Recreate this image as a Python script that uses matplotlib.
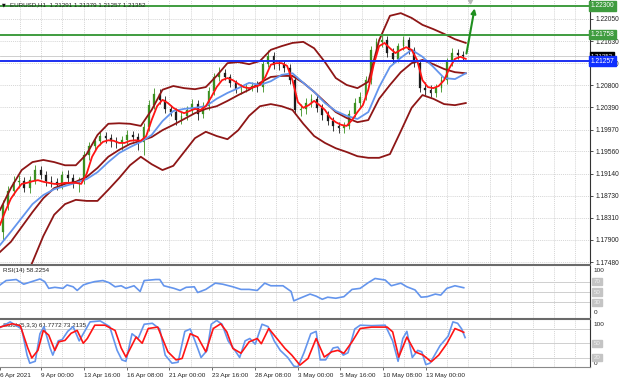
import numpy as np
import matplotlib
matplotlib.use("Agg")
import matplotlib.pyplot as plt
from matplotlib.lines import Line2D

plt.rcParams['font.family'] = ['Liberation Sans', 'DejaVu Sans']

# ---------------- data ----------------
title_text = "EURUSD,H1  1.21291 1.21379 1.21257 1.21352"

opens = [1.1805,1.1855,1.1882,1.1899,1.1900,1.1887,1.1902,1.1921,1.1912,1.1900,
         1.1899,1.1893,1.1912,1.1906,1.1897,1.1902,1.1949,1.1966,1.1976,1.1985,
         1.1981,1.1976,1.1972,1.1977,1.1987,1.1983,1.1974,1.2002,1.2043,1.2064,
         1.2053,1.2036,1.2030,1.2015,1.2023,1.2034,1.2045,1.2026,1.2041,1.2070,
         1.2096,1.2103,1.2096,1.2085,1.2073,1.2074,1.2077,1.2079,1.2078,1.2120,
         1.2135,1.2119,1.2118,1.2113,1.2090,1.2034,1.2035,1.2047,1.2055,1.2038,
         1.2025,1.2013,1.2004,1.2000,1.2004,1.2026,1.2047,1.2058,1.2090,1.2147,
         1.2162,1.2165,1.2141,1.2130,1.2154,1.2165,1.2147,1.2122,1.2075,1.2072,
         1.2066,1.2075,1.2090,1.2124,1.2141,1.2137]
highs = [1.1865,1.1891,1.1910,1.1912,1.1908,1.1910,1.1930,1.1929,1.1919,1.1910,
         1.1906,1.1919,1.1921,1.1914,1.1908,1.1957,1.1974,1.1983,1.1994,1.1993,
         1.1989,1.1983,1.1985,1.1996,1.1994,1.1991,1.2009,1.2053,1.2075,1.2073,
         1.2060,1.2043,1.2038,1.2030,1.2041,1.2055,1.2053,1.2049,1.2077,1.2103,
         1.2115,1.2111,1.2102,1.2090,1.2083,1.2085,1.2087,1.2088,1.2128,1.2147,
         1.2143,1.2128,1.2126,1.2120,1.2096,1.2045,1.2056,1.2064,1.2062,1.2045,
         1.2032,1.2021,1.2011,1.2011,1.2034,1.2056,1.2068,1.2098,1.2154,1.2169,
         1.2175,1.2173,1.2150,1.2160,1.2173,1.2171,1.2152,1.2128,1.2087,1.2081,
         1.2083,1.2098,1.2132,1.2150,1.2149,1.2145]
lows = [1.1790,1.1846,1.1874,1.1887,1.1880,1.1878,1.1895,1.1904,1.1891,1.1889,
        1.1884,1.1885,1.1899,1.1887,1.1880,1.1895,1.1940,1.1959,1.1968,1.1972,
        1.1964,1.1962,1.1959,1.1970,1.1976,1.1959,1.1949,1.1994,1.2036,1.2045,
        1.2028,1.2023,1.2006,1.2008,1.2015,1.2026,1.2015,1.2019,1.2034,1.2062,
        1.2088,1.2090,1.2077,1.2066,1.2064,1.2068,1.2070,1.2068,1.2068,1.2115,
        1.2111,1.2109,1.2105,1.2083,1.2026,1.2023,1.2026,1.2040,1.2030,1.2015,
        1.2006,1.1994,1.1991,1.1991,1.1998,1.2021,1.2040,1.2053,1.2083,1.2139,
        1.2152,1.2134,1.2122,1.2124,1.2147,1.2139,1.2115,1.2068,1.2062,1.2058,
        1.2058,1.2068,1.2083,1.2117,1.2130,1.2128]
closes = [1.1855,1.1882,1.1899,1.1900,1.1887,1.1902,1.1921,1.1912,1.1900,1.1899,
          1.1893,1.1912,1.1906,1.1897,1.1902,1.1949,1.1966,1.1976,1.1985,1.1981,
          1.1976,1.1972,1.1977,1.1987,1.1983,1.1974,1.2002,1.2043,1.2064,1.2053,
          1.2036,1.2030,1.2015,1.2023,1.2034,1.2045,1.2026,1.2041,1.2070,1.2096,
          1.2103,1.2096,1.2085,1.2073,1.2074,1.2077,1.2079,1.2078,1.2120,1.2135,
          1.2119,1.2118,1.2113,1.2090,1.2034,1.2035,1.2047,1.2055,1.2038,1.2025,
          1.2013,1.2004,1.2000,1.2004,1.2026,1.2047,1.2058,1.2090,1.2147,1.2162,
          1.2165,1.2141,1.2130,1.2154,1.2165,1.2147,1.2122,1.2075,1.2072,1.2066,
          1.2075,1.2090,1.2124,1.2141,1.2137,1.21352]

fast_ma = [1.1818,1.1844,1.1867,1.1882,1.1895,1.1897,1.1900,1.1902,1.1899,1.1897,
           1.1895,1.1895,1.1897,1.1897,1.1897,1.1895,1.1914,1.1946,1.1964,1.1974,
           1.1977,1.1976,1.1972,1.1972,1.1976,1.1977,1.1976,1.1985,1.2015,1.2041,
           1.2053,1.2047,1.2038,1.2032,1.2028,1.2032,1.2036,1.2034,1.2041,1.2058,
           1.2077,1.2090,1.2094,1.2090,1.2083,1.2077,1.2075,1.2077,1.2081,1.2096,
           1.2119,1.2122,1.2122,1.2117,1.2090,1.2049,1.2038,1.2043,1.2051,1.2043,
           1.2034,1.2019,1.2011,1.2006,1.2004,1.2015,1.2030,1.2043,1.2072,1.2119,
           1.2154,1.2160,1.2150,1.2141,1.2147,1.2152,1.2147,1.2128,1.2090,1.2077,
           1.2075,1.2079,1.2090,1.2113,1.2130,1.2134,1.2130]
slow_ma = [1.1780,1.1805,1.1831,1.1857,1.1874,1.1885,1.1891,1.1897,1.1904,1.1917,
           1.1936,1.1953,1.1964,1.1974,1.1987,1.2013,1.2032,1.2036,1.2038,1.2041,
           1.2055,1.2066,1.2075,1.2085,1.2081,1.2088,1.2100,1.2103,1.2085,1.2068,
           1.2047,1.2032,1.2023,1.2017,1.2030,1.2077,1.2115,1.2132,1.2147,1.2134,
           1.2115,1.2094,1.2092,1.2103]
bb_upper = [1.1846,1.1887,1.1921,1.1936,1.1940,1.1936,1.1930,1.1930,1.1951,1.1987,
            1.2008,1.2009,1.2008,1.2004,1.2034,1.2072,1.2079,1.2075,1.2073,1.2077,
            1.2098,1.2122,1.2124,1.2120,1.2126,1.2147,1.2154,1.2160,1.2162,1.2150,
            1.2124,1.2094,1.2081,1.2075,1.2087,1.2165,1.2211,1.2216,1.2207,1.2194,
            1.2186,1.2177,1.2167,1.2160]
bb_middle = [1.1767,1.1786,1.1814,1.1842,1.1868,1.1887,1.1895,1.1899,1.1908,1.1925,
             1.1946,1.1959,1.1970,1.1976,1.1983,1.1996,1.2006,1.2017,1.2028,1.2036,
             1.2041,1.2051,1.2062,1.2072,1.2085,1.2096,1.2098,1.2098,1.2085,1.2068,
             1.2049,1.2030,1.2019,1.2011,1.2015,1.2055,1.2081,1.2105,1.2122,1.2128,
             1.2120,1.2111,1.2105,1.2103]
bb_lower = [1.1686,1.1684,1.1705,1.1748,1.1797,1.1837,1.1857,1.1865,1.1863,1.1863,
            1.1884,1.1906,1.1930,1.1946,1.1932,1.1921,1.1929,1.1955,1.1981,1.1993,
            1.1985,1.1979,1.1996,1.2023,1.2041,1.2045,1.2041,1.2034,1.2008,1.1985,
            1.1972,1.1962,1.1955,1.1947,1.1944,1.1944,1.1951,1.1994,1.2038,1.2062,
            1.2055,1.2045,1.2043,1.2047]

rsi_hours = [0,9,24,35,47,59,66,72,81,93, 99,108,114,123,131,140,152,161,170,179,
             186,198,207,213,230,236,242,257,266,275, 287,292,304,318,329,344,356,368,380,391,
             400,418,430,434,443,458,467,476,484,496, 508,520,532,544,554,569,578,592,601,613,
             622,631,643,651,660,672,685]
rsi_values = [63.5,72,74,65,70,75,70,57,59,57, 63.5,60,53,63.5,67,70,72,68,60,62,
              57,62,51,72,74,74,62,57,53,59, 60,49,55,67,65,60,55,55,53,67,
              62,62,51,33,38,46,42,36,40,38, 41,55,57,68,76,73,62,67,60,54,
              40,41,46,44,57,62,58.2]

stoch_main_hours = [0,15,32,40,44,52,59,65,74,78, 86,92,100,108,117,123,133,148,162,173,
                    180,186,195,204,213,225,236,244,254,263, 273,281,288,297,306,312,320,328,337,347,
                    354,362,369,377,387,396,405,414,425,434, 440,449,459,467,473,481,492,499,507,514,
                    524,532,549,569,580,588,595,601,609,617, 623,629,635,642,650,662,669,676,682,687]
stoch_main = [83,95,80,25,8,12,70,85,40,25, 55,58,75,85,55,70,95,97,85,35,
              15,12,70,60,90,92,80,25,8,10, 75,80,55,20,35,90,98,90,55,35,
              20,55,60,48,90,85,55,35,20,2, 0,30,70,75,15,15,40,42,25,30,
              80,88,87,88,55,12,60,75,20,35, 32,5,8,25,45,65,95,92,80,62]
stoch_signal_hours = [0,18,30,41,47,56,64,72,81,87, 96,105,114,123,129,140,155,170,179,186,
                      201,210,219,233,248,260,269,281,292,304, 315,326,335,344,356,368,380,386,397,409,
                      421,431,443,455,467,479,490,499,508,520, 532,549,572,580,589,601,613,625,637,648,
                      660,672,679,685]
stoch_signal = [84,91,87,40,19,35,77,67,35,53, 56,71,77,50,60,88,88,77,40,21,
                63,50,81,84,32,15,18,70,63,32, 81,91,74,39,29,53,60,49,81,60,
                39,25,4,18,60,21,32,35,29,53, 81,84,84,74,21,63,32,25,11,25,
                49,81,77,73]

price_ticks = [1.17480, 1.17900, 1.18310, 1.18730, 1.19140, 1.19560,
               1.19970, 1.20390, 1.20800, 1.21220, 1.21630, 1.22050]
resistance_levels = [1.22300, 1.21758]
support_level = 1.21257
last_price = 1.21352
arrow_from = (689, 1.2140)
arrow_to = (701, 1.2225)
date_labels = ["6 Apr 2021", "9 Apr 00:00", "13 Apr 16:00", "16 Apr 08:00", "21 Apr 00:00",
               "23 Apr 16:00", "28 Apr 08:00", "3 May 00:00", "5 May 16:00",
               "10 May 08:00", "13 May 00:00"]

# ---------------- layout ----------------
W, H = 620, 383
PX_PER_HOUR = 0.677
XMAX = 590 / PX_PER_HOUR
Y_TOP, Y_BOT = 1.22407, 1.17444

def rect(x0, y0, x1, y1):
    return [x0 / W, 1 - y1 / H, (x1 - x0) / W, (y1 - y0) / H]

GREEN = '#3f9c3f'
BLUE_LINE = '#1c2ff0'
BAND = '#8e1616'
RED = '#ff1414'
CORN = '#6495ed'
GRID = '#c6c6c6'
LEVEL = '#cfcfcf'

candle_x = 4 + 8 * np.arange(len(closes))
fast_x = 8 * np.arange(len(fast_ma))
slow_x = 16 * np.arange(len(slow_ma))
grid_hours = 29.0 + 31.57 * np.arange(27)
tick_hours = [0.0] + list(60.6 + 63.15 * np.arange(10))

fig = plt.figure(figsize=(W / 100, H / 100), dpi=100)
fig.patch.set_facecolor('white')

def style_panel(a):
    a.set_xlim(0, XMAX)
    for s in ['left', 'top', 'bottom']:
        a.spines[s].set_visible(False)
    a.spines['right'].set_color('#333333')
    a.spines['right'].set_linewidth(0.8)
    a.set_xticks([])
    for g in grid_hours:
        a.axvline(g, color=GRID, lw=0.5, ls=(0, (1.5, 1.5)), zorder=0)

# ---- main price panel ----
ax = fig.add_axes(rect(0, 0, 590, 264))
style_panel(ax)
ax.set_ylim(Y_BOT, Y_TOP)
ax.yaxis.tick_right()
ax.set_yticks(price_ticks)
ax.set_yticklabels([f"{v:.5f}" for v in price_ticks])
ax.tick_params(axis='y', length=2.5, width=0.6, pad=1.5, labelsize=4.8,
               colors='#333333', labelcolor='#222222')
for v in price_ticks:
    ax.axhline(v, color=GRID, lw=0.5, ls=(0, (1.5, 1.5)), zorder=0)

# candles
o = np.array(opens); c = np.array(closes); hi = np.array(highs); lo = np.array(lows)
up = c >= o
cols = np.where(up, '#3a8f1f', '#1c1c1c')
ax.vlines(candle_x, lo, hi, colors=cols, lw=0.6, zorder=2)
body_h = np.maximum(np.abs(c - o), 0.00008)
ax.bar(candle_x, body_h, bottom=np.minimum(o, c), width=2.6, color=cols,
       edgecolor=cols, lw=0.2, zorder=2)

# bands and moving averages
for band in (bb_upper, bb_middle, bb_lower):
    ax.plot(slow_x, band, color=BAND, lw=1.3, zorder=3)
ax.plot(slow_x, slow_ma, color=CORN, lw=1.3, zorder=4)
ax.plot(fast_x, fast_ma, color=RED, lw=1.3, zorder=5)

# horizontal levels
for lv in resistance_levels:
    ax.axhline(lv, color=GREEN, lw=1.4, zorder=6)
ax.axhline(last_price, color='#c8c8c8', lw=0.6, zorder=1)
ax.axhline(support_level, color=BLUE_LINE, lw=1.4, zorder=6)

# arrow
ax.annotate('', xy=arrow_to, xytext=arrow_from,
            arrowprops=dict(arrowstyle='-|>', color='#1f8f1f', lw=1.5,
                            mutation_scale=7, shrinkA=0, shrinkB=0), zorder=7)
ax.plot([694], [1.2238], marker='v', color='#b8b8b8', ms=3.5, zorder=7, clip_on=False)

# right-side price boxes
ytr = ax.get_yaxis_transform()
def price_box(v, fc, fs=4.8):
    ax.text(1.0015, v, f"{v:.5f}", transform=ytr, fontsize=fs, color='white',
            va='center', ha='left', zorder=20, clip_on=False,
            bbox=dict(boxstyle='square,pad=0.22', fc=fc, ec=fc))
for lv in resistance_levels:
    price_box(lv, GREEN)
price_box(last_price, '#000000', 4.4)
price_box(support_level, '#1030ff')

# title
fig.text(10 / W, 1 - 4.5 / H, title_text, fontsize=4.5, color='#222222',
         va='center', ha='left')
fig.text(2 / W, 1 - 4.5 / H, '\u25bc', fontsize=3.5, color='#111111',
         va='center', ha='left', family='DejaVu Sans')

# ---- RSI panel ----
ar = fig.add_axes(rect(0, 266, 590, 318))
style_panel(ar)
ar.set_ylim(0, 100)
ar.set_yticks([])
for lv in (70, 50, 30):
    ar.axhline(lv, color=LEVEL, lw=0.7, zorder=1)
ar.plot(rsi_hours, rsi_values, color=CORN, lw=1.2, zorder=3)
ar.text(0.005, 0.92, 'RSI(14) 58.2254', transform=ar.transAxes, fontsize=4.5,
        color='#222222', va='center', ha='left', zorder=2)
ar.text(1.006, 0.92, '100', transform=ar.transAxes, fontsize=4.6, va='center',
        ha='left', color='#222222', clip_on=False)
ar.text(1.006, 0.10, '0', transform=ar.transAxes, fontsize=4.6, va='center',
        ha='left', color='#222222', clip_on=False)
rtr = ar.get_yaxis_transform()
for lv in (70, 50, 30):
    ar.text(1.006, lv, str(lv), transform=rtr, fontsize=4.4, color='#eeeeee',
            va='center', ha='left', clip_on=False,
            bbox=dict(boxstyle='square,pad=0.2', fc='#c4c4c4', ec='#c4c4c4'))

# ---- Stochastic panel ----
ast = fig.add_axes(rect(0, 319.5, 590, 367))
style_panel(ast)
ast.set_ylim(0, 100)
ast.set_yticks([])
for lv in (80, 50, 20):
    ast.axhline(lv, color=LEVEL, lw=0.7, zorder=1)
ast.text(0.005, 0.87, 'Stoch(5,3,3) 61.7772 73.2135', transform=ast.transAxes,
         fontsize=4.5, color='#222222', va='center', ha='left', zorder=1)
ast.plot(stoch_main_hours, stoch_main, color=CORN, lw=1.2, zorder=3)
ast.plot(stoch_signal_hours, stoch_signal, color=RED, lw=1.2, zorder=4)
ast.text(1.006, 0.90, '100', transform=ast.transAxes, fontsize=4.6, va='center',
         ha='left', color='#222222', clip_on=False)
ast.text(1.006, 0.08, '0', transform=ast.transAxes, fontsize=4.6, va='center',
         ha='left', color='#222222', clip_on=False)
str_ = ast.get_yaxis_transform()
for lv in (50, 20):
    ast.text(1.006, lv, str(lv), transform=str_, fontsize=4.4, color='#eeeeee',
             va='center', ha='left', clip_on=False,
             bbox=dict(boxstyle='square,pad=0.2', fc='#c4c4c4', ec='#c4c4c4'))
ast.spines['bottom'].set_visible(True)
ast.spines['bottom'].set_color('#8a8a8a')
ast.spines['bottom'].set_linewidth(0.8)
ast.set_xticks(tick_hours)
ast.set_xticklabels(date_labels)
ast.tick_params(axis='x', length=2.5, width=0.6, pad=2.0, labelsize=4.6,
                colors='#555555', labelcolor='#222222')
for lbl in ast.get_xticklabels():
    lbl.set_ha('left')

# panel separators
for ysep in (265.0, 318.7):
    fig.add_artist(Line2D([0, 590 / W], [1 - ysep / H] * 2, transform=fig.transFigure,
                          color='#6a6a6a', lw=1.5))

fig.savefig('out.png', dpi=100, facecolor='white')
